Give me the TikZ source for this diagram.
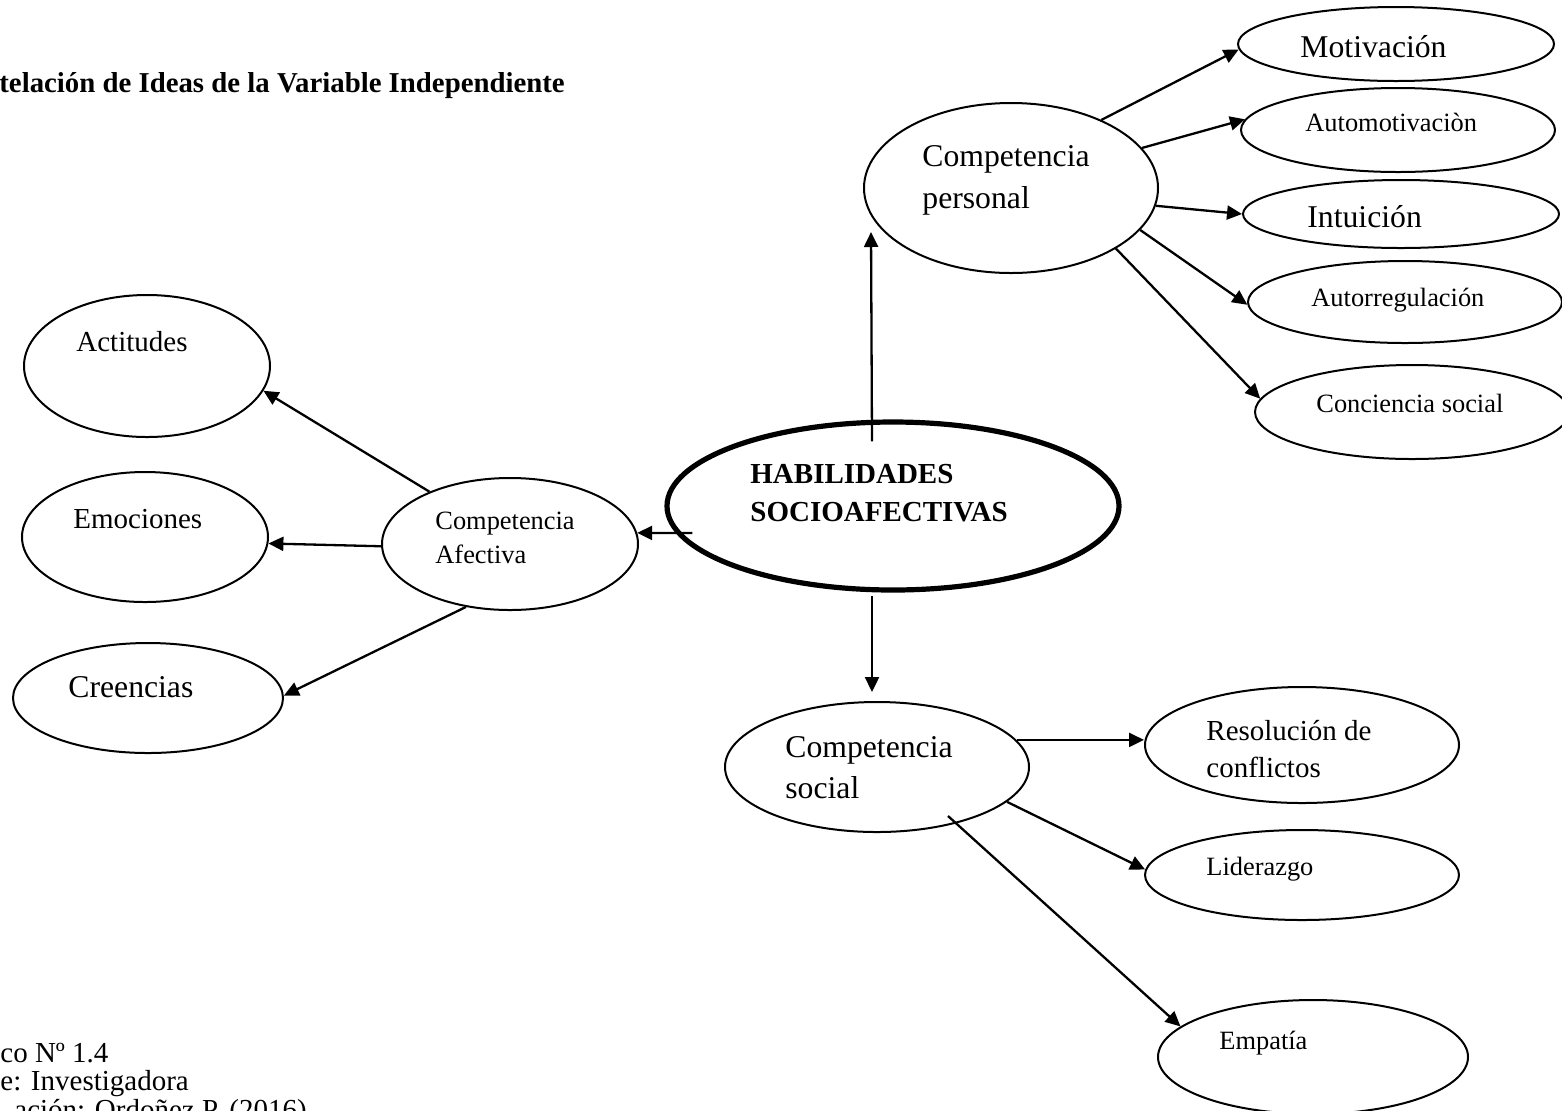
\documentclass[tikz,border=0pt]{standalone}
\usepackage{fontspec}
\setmainfont{Liberation Serif}
\usetikzlibrary{arrows.meta,shapes.geometric}
\newcommand\myell[6][ell]{\node[#1, minimum width=#5pt, minimum height=#6pt] (#2) at (#3,#4) {};}
\begin{document}
\begin{tikzpicture}[x=0.5pt,y=-0.5pt,
  ell/.style={ellipse, draw, line width=1pt, inner sep=0pt},
  thickell/.style={ellipse, draw, line width=2.6pt, inner sep=0pt},
  conn/.style={line width=1.15pt, -{Triangle[length=7.5pt,width=7pt]}},
  fL/.style={font=\fontsize{15.85}{19}\selectfont, inner sep=0pt, anchor=base west},
  fM/.style={font=\fontsize{14.5}{17}\selectfont, inner sep=0pt, anchor=base west},
  fS/.style={font=\fontsize{13.2}{16}\selectfont, inner sep=0pt, anchor=base west},
  fB/.style={font=\fontsize{14.5}{17}\selectfont\bfseries, inner sep=0pt, anchor=base west},
  fT/.style={font=\fontsize{14.4}{17}\selectfont\bfseries, inner sep=0pt, anchor=base west}]
\useasboundingbox (0,0) rectangle (1562,1110);

% ellipses
\myell{mot}{1396}{44}{158}{37}
\myell{auto}{1398}{130}{157}{42}
\myell{intu}{1401}{214}{158}{34}
\myell{autor}{1405}{302}{157}{41}
\myell{conc}{1412}{412}{157}{47}
\myell{cp}{1011}{188}{147}{85}
\myell[thickell]{hab}{893}{506}{226}{84}
\myell{ca}{510}{544}{128}{66}
\myell{act}{147}{366}{123}{71}
\myell{emo}{145}{537}{123}{65}
\myell{cre}{148}{698}{135}{55}
\myell{cs}{877}{767}{152}{65}
\myell{res}{1302}{745}{157}{58}
\myell{lid}{1302}{875}{157}{45}
\myell{emp}{1313}{1057}{155}{57}

% texts
\node[fT] (title) at (-1,92) {telación de Ideas de la Variable Independiente};
\node[fL] (tmot) at (1300,57) {Motivación};
\node[fS] (tauto) at (1305,131) {Automotivaciòn};
\node[fL] (tintu) at (1307,227) {Intuición};
\node[fS] (tautor) at (1311,306) {Autorregulación};
\node[fS] (tconc) at (1316,412) {Conciencia social};
\node[fL] (tcp1) at (922,166) {Competencia};
\node[fL] (tcp2) at (922,208) {personal};
\node[fB] (thab1) at (750,483) {HABILIDADES};
\node[fB] (thab2) at (750,521) {SOCIOAFECTIVAS};
\node[fS] (tca1) at (435,529) {Competencia};
\node[fS] (tca2) at (435,563) {Afectiva};
\node[fM] (tact) at (76,351) {Actitudes};
\node[fM] (temo) at (73,528) {Emociones};
\node[fL] (tcre) at (68,697) {Creencias};
\node[fL] (tcs1) at (785,757) {Competencia};
\node[fL] (tcs2) at (785,798) {social};
\node[fM] (tres1) at (1206,740) {Resolución de};
\node[fM] (tres2) at (1206,777) {conflictos};
\node[fS] (tlid) at (1206,875) {Liderazgo};
\node[fS] (temp) at (1219,1049) {Empatía};
\node[fM] (src1) at (0,1062) {co Nº 1.4};
\node[fM] (src2) at (0,1090) {e: Investigadora};
\node[fM] (src3) at (14,1119) {ación: Ordoñez P. (2016)};

% connectors
\draw[conn] ([shift={(-21,22)}]hab.north) -- ([shift={(-140,44)}]cp.center);
\draw[conn] ([shift={(-21,3)}]hab.south) -- ([shift={(-5,-9)}]cs.north);
\draw[conn] ([shift={(28,27)}]hab.west) -- (ca.5);

\draw[conn] (cp.37) -- (mot.182);
\draw[conn] (cp.17) -- (auto.176);
\draw[conn] (cp.-7) -- (intu.180);
\draw[conn] (cp.-18) -- (autor.181);
\draw[conn] (cp.-30) -- (conc.175);

\draw[conn] (ca.147) -- (act.-12);
\draw[conn] (ca.181) -- (emo.-3);
\draw[conn] (ca.235) -- (cre.1);

\draw[conn] (cs.11.5) -- (cs.11.5 -| res.west);
\draw[conn] (cs.-15) -- (lid.178);
\draw[conn] ([shift={(71,49)}]cs.center) -- (emp.167);
\end{tikzpicture}
\end{document}
